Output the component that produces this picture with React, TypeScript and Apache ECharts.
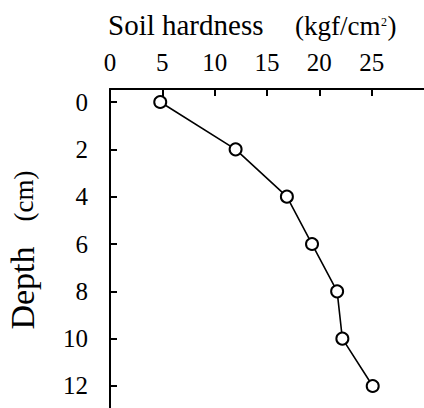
import React, { useEffect, useRef } from "react";
import * as echarts from "echarts";

const depths = [0, 2, 4, 6, 8, 10, 12];
const hardness = [4.8, 12.0, 16.9, 19.3, 21.7, 22.2, 25.1];
const titleMain = "Soil hardness";
const titleUnitA = "(kgf/cm";
const titleUnitSup = "2";
const titleUnitB = ")";
const yNameMain = "Depth";
const yNameUnit = "(cm)";

const FONT = "Liberation Serif";

function measure(text: string, size: number): number {
  const c = document.createElement("canvas").getContext("2d");
  if (!c) return text.length * size * 0.5;
  c.font = `${size}px "${FONT}"`;
  return c.measureText(text).width;
}

const rotStyle = (cx: number, cy: number, size: number): React.CSSProperties => ({
  position: "absolute",
  left: cx,
  top: cy,
  transform: "translate(-50%, -50%) rotate(-90deg)",
  fontFamily: FONT,
  fontSize: size,
  lineHeight: 1,
  whiteSpace: "nowrap",
  color: "#000",
});

export default function App() {
  const ref = useRef<HTMLDivElement>(null);
  useEffect(() => {
    document.body.style.margin = "0";
    const chart = echarts.init(ref.current!, null, { renderer: "svg" });

    const unitX = 295;
    const supX = unitX + measure(titleUnitA, 27) + 0.5;
    const closeX = supX + measure(titleUnitSup, 12) + 0.5;
    const txt = (text: string, x: number, y: number, size: number) => ({
      type: "text",
      x,
      y,
      style: { text, fontFamily: FONT, fontSize: size, fill: "#000", align: "left", verticalAlign: "middle" },
      z: 50,
    });

    chart.setOption({
      animation: false,
      backgroundColor: "#fff",
      grid: { left: 110, top: 89, right: 0, bottom: 0, containLabel: false, outerBoundsMode: "none" },
      xAxis: {
        type: "value",
        position: "top",
        min: 0,
        max: 30,
        splitNumber: 6,
        axisLine: { show: true, onZero: false, lineStyle: { color: "#000", width: 2 } },
        axisTick: { show: true, inside: true, length: 7, lineStyle: { color: "#000", width: 2 } },
        axisLabel: { showMaxLabel: false, margin: 14, fontFamily: FONT, fontSize: 25, color: "#000" },
        splitLine: { show: false },
      },
      yAxis: {
        type: "value",
        inverse: true,
        min: -0.55,
        max: 12.93,
        splitNumber: 7,
        axisLine: { show: true, onZero: false, lineStyle: { color: "#000", width: 2 } },
        axisTick: { show: true, inside: true, length: 7, lineStyle: { color: "#000", width: 2 } },
        axisLabel: { showMinLabel: false, showMaxLabel: false, margin: 22, fontFamily: FONT, fontSize: 25, color: "#000" },
        splitLine: { show: false },
      },
      graphic: [
        txt(titleMain, 108, 25, 29),
        txt(titleUnitA, unitX, 26, 27),
        txt(titleUnitSup, supX, 22, 12),
        txt(titleUnitB, closeX, 26, 27),
      ],
      series: [
        {
          type: "line",
          data: depths.map((d, i) => [hardness[i], d]),
          symbol: "circle",
          symbolSize: 12,
          itemStyle: { color: "#fff", borderColor: "#000", borderWidth: 2 },
          lineStyle: { color: "#000", width: 1.6 },
        },
      ],
    });
    return () => chart.dispose();
  }, []);
  return (
    <div style={{ position: "relative", width: 424, height: 408 }}>
      <div ref={ref} style={{ width: 424, height: 408 }} />
      <span style={rotStyle(23, 288, 34)}>{yNameMain}</span>
      <span style={rotStyle(24, 196, 27)}>{yNameUnit}</span>
    </div>
  );
}
